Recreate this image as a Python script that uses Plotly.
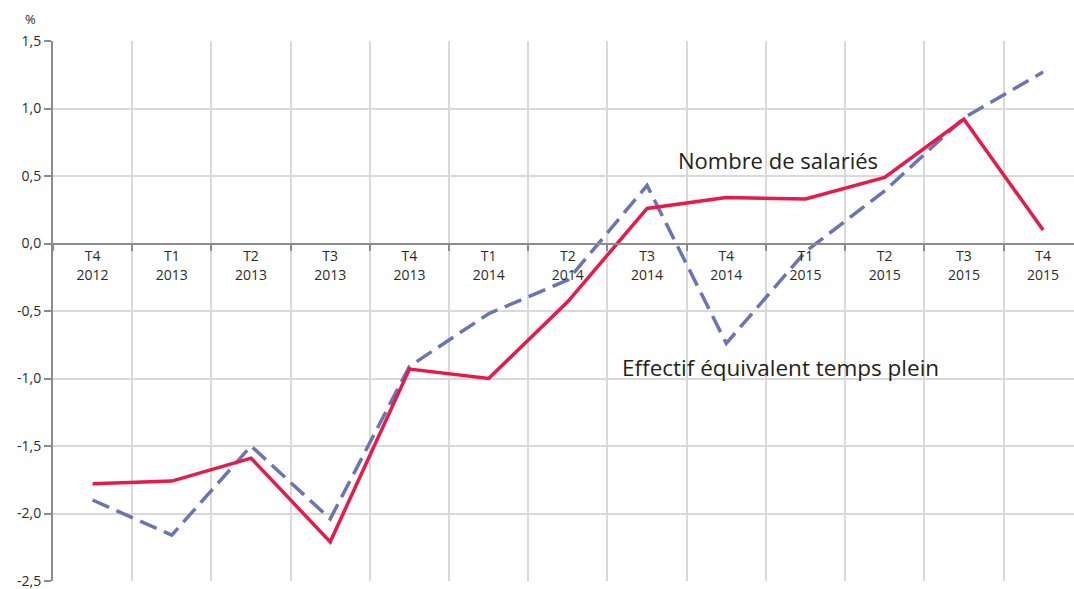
import plotly.graph_objects as go

quarters = ["T4", "T1", "T2", "T3", "T4", "T1", "T2", "T3", "T4", "T1", "T2", "T3", "T4"]
years = ["2012", "2013", "2013", "2013", "2013", "2014", "2014", "2014", "2014", "2015", "2015", "2015", "2015"]
salaries = [-1.78, -1.76, -1.59, -2.21, -0.93, -1.00, -0.43, 0.26, 0.34, 0.33, 0.49, 0.92, 0.10]
etp = [-1.90, -2.16, -1.50, -2.04, -0.91, -0.52, -0.27, 0.43, -0.74, -0.06, 0.39, 0.93, 1.27]
y_ticks = [-2.5, -2.0, -1.5, -1.0, -0.5, 0.0, 0.5, 1.0, 1.5]

x = list(range(len(quarters)))
labels = [f"{q}<br>{y}" for q, y in zip(quarters, years)]
y_text = [f"{v:.1f}".replace(".", ",") for v in y_ticks]

fig = go.Figure()

fig.add_trace(go.Scatter(
    x=x, y=etp, mode="lines", name="Effectif équivalent temps plein",
    line=dict(color="#6c74b4", width=3.5, dash="18px,8px"),
))
fig.add_trace(go.Scatter(
    x=x, y=salaries, mode="lines", name="Nombre de salariés",
    line=dict(color="#e8194b", width=3.5),
))

# line labels
fig.add_annotation(x=8.65, y=0.62, xref="x", yref="y", text="Nombre de salariés",
                   showarrow=False, font=dict(size=22, color="#231f20"))
fig.add_annotation(x=8.68, y=-0.92, xref="x", yref="y", text="Effectif équivalent temps plein",
                   showarrow=False, font=dict(size=22.5, color="#231f20"))
fig.add_annotation(x=-0.022, y=1.04, xref="paper", yref="paper", text="%",
                   showarrow=False, xanchor="center", yanchor="middle",
                   font=dict(size=13, color="#2b2b2b"))

fig.update_layout(
    width=1074, height=589,
    margin=dict(l=53, r=0, t=41, b=8),
    plot_bgcolor="white", paper_bgcolor="white",
    showlegend=False,
    font=dict(family="Open Sans, sans-serif", color="#2b2b2b"),
    xaxis=dict(
        range=[-0.5, 12.39],
        tickmode="array", tickvals=x, ticktext=labels,
        ticks="", showgrid=False,
        anchor="free", position=0.625,
        showline=True, linecolor="#8c8c8c", linewidth=2,
        tickfont=dict(size=14, color="#2b2b2b"),
        minor=dict(tickmode="linear", tick0=-0.5, dtick=1, ticks="outside",
                   ticklen=6, tickcolor="#8c8c8c", tickwidth=2,
                   showgrid=True, gridcolor="#d9d9d9", gridwidth=2),
        zeroline=False, automargin=False,
    ),
    yaxis=dict(
        range=[-2.5, 1.5],
        tickmode="array", tickvals=y_ticks, ticktext=y_text,
        ticks="outside", ticklen=7, tickcolor="#8c8c8c", tickwidth=2,
        showline=True, linecolor="#8c8c8c", linewidth=2,
        showgrid=True, gridcolor="#d9d9d9", gridwidth=2,
        zeroline=False, automargin=False, ticklabeloverflow="allow",
        tickfont=dict(size=14, color="#2b2b2b"),
    ),
)

fig.write_html("out.html", config={"displayModeBar": False},
               post_script="document.body.style.margin='0';")
